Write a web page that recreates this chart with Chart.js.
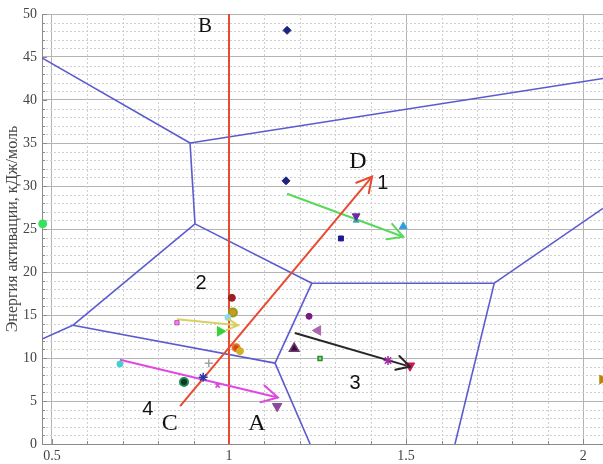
<!DOCTYPE html>
<html>
<head>
<meta charset="utf-8">
<script src="https://cdn.jsdelivr.net/npm/chart.js@4.4.1/dist/chart.umd.min.js"></script>
<style>
  html, body { margin: 0; padding: 0; background: #ffffff; }
  #wrap { width: 603px; height: 464px; }
</style>
</head>
<body>
<div id="wrap"><canvas id="c" width="603" height="464"></canvas></div>
<script>
// Axis ranges and ticks
const xRange = [0.472, 2.056];
const yRange = [0, 50];
const xTicks = [0.5, 1, 1.5, 2];
const yTicks = [0, 5, 10, 15, 20, 25, 30, 35, 40, 45, 50];

// Voronoi cell boundaries: [x1, y1, x2, y2]
const voronoiEdges = [
  [0.472, 44.9, 0.890, 35.0],
  [0.890, 35.0, 2.056, 42.5],
  [0.890, 35.0, 0.904, 25.6],
  [0.904, 25.6, 0.559, 13.8],
  [0.559, 13.8, 0.472, 12.2],
  [0.559, 13.8, 1.130, 9.4],
  [0.904, 25.6, 1.234, 18.7],
  [1.234, 18.7, 1.130, 9.4],
  [1.130, 9.4, 1.229, 0.0],
  [1.234, 18.7, 1.749, 18.7],
  [1.749, 18.7, 1.638, 0.0],
  [1.749, 18.7, 2.056, 27.4]
];

// Section lines A–B and C–D
const lineAB = [[1.0, 0], [1.0, 50]];
const arrowCD = [[0.862, 4.4], [1.404, 31.1]];

// Shift arrows
const arrowGreen = [[1.164, 29.1], [1.492, 24.1]];
const arrowYellow = [[0.853, 14.5], [1.025, 13.8]];
const arrowMagenta = [[0.692, 9.8], [1.138, 5.4]];
const arrowBlack = [[1.186, 12.9], [1.511, 9.0]];

// Samples: activation energy vs parameter
const sampleX = [1.164, 1.161, 1.359, 1.359, 1.316, 1.492, 0.474, 2.054,
                 1.008, 1.011, 0.997, 0.853, 0.975, 1.020, 1.031, 0.943,
                 0.927, 0.873, 0.968, 1.136, 0.692, 1.226, 1.251, 1.184,
                 1.257, 1.449, 1.511];
const sampleY = [48.1, 30.6, 26.0, 26.5, 23.9, 25.3, 25.6, 7.5,
                 17.0, 15.3, 14.7, 14.1, 13.1, 11.2, 10.8, 9.4,
                 7.75, 7.2, 6.8, 4.4, 9.3, 14.85, 13.2, 11.1,
                 9.95, 9.7, 9.1];

// Marker appearance for each sample
const markerStyle = ['rectRot', 'rectRot', 'triangle', 'triangle', 'rect', 'triangle', 'circle', 'triangle',
                     'circle', 'circle', 'circle', 'rect', 'triangle', 'circle', 'circle', 'cross',
                     'star', 'circle', 'crossRot', 'triangle', 'circle', 'circle', 'triangle', 'triangle',
                     'rect', 'star', 'triangle'];
const markerTurn = [0, 0, 0, 180, 0, 0, 0, 90,
                    0, 0, 0, 0, 90, 0, 0, 0,
                    0, 0, 0, 180, 0, 0, -90, 0,
                    0, 0, 180];
const markerSize = [4, 4, 3.5, 4.5, 3.5, 4.5, 4, 5,
                    3.5, 4, 3, 3, 5.5, 3.5, 3.5, 4,
                    4.5, 4, 3, 5.5, 3, 3, 5.5, 5.5,
                    2.8, 4.5, 5.5];
const markerFill = ['#1c2380', '#1c2380', '#3aa9a4', '#6a2aa8', '#1a1a96', '#2aa0e0', '#38e060', '#b8860b',
                    '#9b2020', '#c89a28', '#86dcf2', '#e888e0', '#38d038', '#d04418', '#d4b024', '#a0a0a0',
                    '#2838a8', '#0c3a24', '#d848d8', '#8a4a9c', '#40d0d0', '#7a1a86', '#a868b0', '#3a0a3a',
                    '#9ad89a', '#a02aa0', '#c8184c'];
const markerEdge = ['#1c2380', '#1c2380', '#3aa9a4', '#6a2aa8', '#1a1a96', '#2aa0e0', '#38e060', '#b8860b',
                    '#9b2020', '#9a9a18', '#86dcf2', '#c050c0', '#38d038', '#e87020', '#d4b024', '#a0a0a0',
                    '#2838a8', '#1a8a50', '#d848d8', '#8a4a9c', '#40d0d0', '#7a1a86', '#a868b0', '#6a3a6a',
                    '#2a8a2a', '#a02aa0', '#c8184c'];
const markerEdgeWidth = [1, 1, 1, 1, 1, 1, 1, 1,
                         1, 2, 1, 1, 1, 2, 1, 1.5,
                         1.5, 2, 1.5, 1, 1, 1, 1, 1.5,
                         1.5, 1.5, 1];

// Text annotations on the plane
const notes = [
  { text: 'B', x: 0.932, y: 48.6, font: '21px "Liberation Serif"' },
  { text: 'D', x: 1.364, y: 32.8, font: '24px "Liberation Serif"' },
  { text: '1', x: 1.434, y: 30.3, font: '20px "Liberation Sans"' },
  { text: '2', x: 0.921, y: 18.7, font: '20px "Liberation Sans"' },
  { text: '3', x: 1.356, y: 7.0, font: '20px "Liberation Sans"' },
  { text: '4', x: 0.771, y: 4.0, font: '20px "Liberation Sans"' },
  { text: 'C', x: 0.833, y: 2.4, font: '24px "Liberation Serif"' },
  { text: 'A', x: 1.079, y: 2.4, font: '24px "Liberation Serif"' }
];

const toPts = arr => arr.map(p => ({ x: p[0], y: p[1] }));

const datasets = [];
voronoiEdges.forEach(e => {
  datasets.push({
    data: [{ x: e[0], y: e[1] }, { x: e[2], y: e[3] }],
    showLine: true, pointRadius: 0, borderColor: '#5b5bd0', borderWidth: 1.6, order: 6
  });
});
datasets.push({ data: toPts(lineAB), showLine: true, pointRadius: 0, borderColor: '#e84a30', borderWidth: 2, order: 5 });
const arrowDefs = [
  { pts: arrowCD, color: '#e84a30', width: 2, head: 17 },
  { pts: arrowGreen, color: '#5ad85a', width: 2, head: 17 },
  { pts: arrowYellow, color: '#d8d060', width: 2, head: 12 },
  { pts: arrowMagenta, color: '#e048e0', width: 2, head: 18 },
  { pts: arrowBlack, color: '#262626', width: 2, head: 15 }
];
arrowDefs.forEach(a => {
  datasets.push({
    data: toPts(a.pts), showLine: true, pointRadius: 0,
    borderColor: a.color, borderWidth: a.width, order: 4,
    arrowHead: a.head
  });
});
datasets.push({
  data: sampleX.map((x, i) => ({ x: x, y: sampleY[i] })),
  showLine: false,
  pointStyle: markerStyle,
  pointRotation: markerTurn,
  pointRadius: markerSize,
  pointBackgroundColor: markerFill,
  pointBorderColor: markerEdge,
  pointBorderWidth: markerEdgeWidth,
  clip: false,
  order: 1
});

// Dotted minor grid with small inward ticks
const minorGrid = {
  id: 'minorGrid',
  beforeDatasetsDraw(chart) {
    const { ctx, chartArea: a, scales: { x, y } } = chart;
    ctx.save();
    ctx.strokeStyle = '#cfcfcf';
    ctx.lineWidth = 1;
    ctx.setLineDash([2, 2]);
    for (let k = 5; k <= 20; k++) {
      if (k % 5 === 0) continue;
      const px = Math.round(x.getPixelForValue(k / 10)) + 0.5;
      ctx.beginPath(); ctx.moveTo(px, a.top); ctx.lineTo(px, a.bottom); ctx.stroke();
    }
    for (let v = 1; v < 50; v++) {
      if (v % 5 === 0) continue;
      const py = Math.round(y.getPixelForValue(v)) + 0.5;
      ctx.beginPath(); ctx.moveTo(a.left, py); ctx.lineTo(a.right, py); ctx.stroke();
    }
    ctx.setLineDash([]);
    ctx.strokeStyle = '#8a8a8a';
    for (let k = 5; k <= 20; k++) {
      const px = Math.round(x.getPixelForValue(k / 10)) + 0.5;
      const len = k % 5 === 0 ? 5 : 3;
      ctx.beginPath(); ctx.moveTo(px, a.bottom); ctx.lineTo(px, a.bottom - len); ctx.stroke();
    }
    for (let v = 0; v <= 50; v++) {
      const py = Math.round(y.getPixelForValue(v)) + 0.5;
      const len = v % 5 === 0 ? 5 : 3;
      ctx.beginPath(); ctx.moveTo(a.left, py); ctx.lineTo(a.left + len, py); ctx.stroke();
    }
    ctx.restore();
  }
};

// Open arrowheads at the end of the shift arrows
const arrowHeads = {
  id: 'arrowHeads',
  afterDatasetsDraw(chart) {
    const { ctx } = chart;
    chart.data.datasets.forEach((ds, i) => {
      if (!ds.arrowHead) return;
      const pts = chart.getDatasetMeta(i).data;
      const p0 = pts[pts.length - 2], p1 = pts[pts.length - 1];
      const ang = Math.atan2(p1.y - p0.y, p1.x - p0.x);
      const spread = 0.5;
      ctx.save();
      ctx.strokeStyle = ds.borderColor;
      ctx.lineWidth = ds.borderWidth;
      ctx.lineCap = 'round';
      ctx.lineJoin = 'miter';
      ctx.beginPath();
      ctx.moveTo(p1.x - ds.arrowHead * Math.cos(ang - spread), p1.y - ds.arrowHead * Math.sin(ang - spread));
      ctx.lineTo(p1.x, p1.y);
      ctx.lineTo(p1.x - ds.arrowHead * Math.cos(ang + spread), p1.y - ds.arrowHead * Math.sin(ang + spread));
      ctx.stroke();
      ctx.restore();
    });
  }
};

// Letters and region numbers
const noteLabels = {
  id: 'noteLabels',
  afterDraw(chart) {
    const { ctx, scales: { x, y } } = chart;
    ctx.save();
    ctx.fillStyle = '#111111';
    ctx.textAlign = 'center';
    ctx.textBaseline = 'middle';
    notes.forEach(n => {
      ctx.font = n.font;
      ctx.fillText(n.text, x.getPixelForValue(n.x), y.getPixelForValue(n.y));
    });
    ctx.restore();
  }
};

new Chart(document.getElementById('c'), {
  type: 'scatter',
  data: { datasets: datasets },
  options: {
    responsive: false,
    animation: false,
    devicePixelRatio: 1,
    layout: { autoPadding: false, padding: { top: 14, right: 0, bottom: 0, left: 0 } },
    plugins: { legend: { display: false }, tooltip: { enabled: false } },
    scales: {
      x: {
        type: 'linear', min: xRange[0], max: xRange[1],
        afterBuildTicks: s => { s.ticks = xTicks.map(v => ({ value: v })); },
        afterFit: s => { s.height = 20; s.paddingLeft = 0; s.paddingRight = 0; },
        grid: { color: '#b4b4b4', drawTicks: false },
        border: { color: '#8a8a8a' },
        ticks: {
          padding: 4, color: '#444444', autoSkip: false, maxRotation: 0,
          font: { family: '"Liberation Serif"', size: 14 },
          callback: v => String(v)
        }
      },
      y: {
        type: 'linear', min: yRange[0], max: yRange[1],
        afterBuildTicks: s => { s.ticks = yTicks.map(v => ({ value: v })); },
        afterFit: s => { s.width = 42; s.paddingTop = 0; s.paddingBottom = 0; },
        grid: { color: '#b4b4b4', drawTicks: false },
        border: { color: '#8a8a8a' },
        ticks: {
          padding: 5, color: '#444444',
          font: { family: '"Liberation Serif"', size: 14 }
        },
        title: {
          display: true,
          text: 'Энергия активации, кДж/моль',
          color: '#444444',
          font: { family: '"Liberation Serif"', size: 16 },
          padding: { top: 3, bottom: 0 }
        }
      }
    }
  },
  plugins: [minorGrid, arrowHeads, noteLabels]
});
</script>
</body>
</html>
